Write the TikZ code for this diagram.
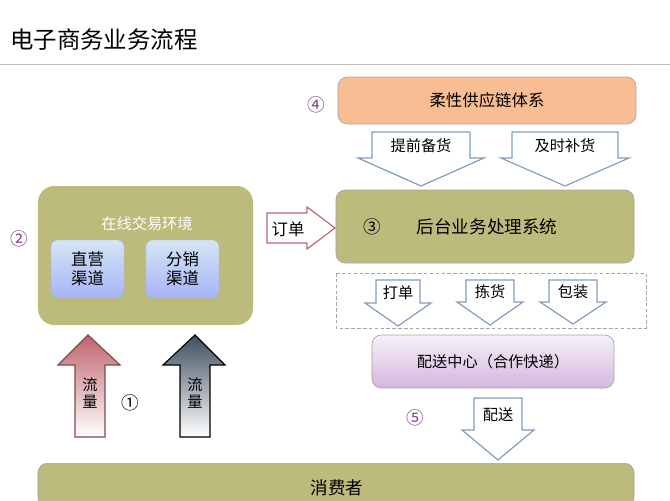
\documentclass[tikz,border=0pt]{standalone}
\usepackage{fontspec}
\setmainfont{Noto Sans CJK SC}
\usepackage{tikz}
\usetikzlibrary{positioning}

\definecolor{olive}{HTML}{BDBB7C}
\definecolor{peach}{HTML}{F9BD93}
\definecolor{lavend}{HTML}{DCCDEB}
\definecolor{skyb}{HTML}{B9D3EE}
\definecolor{arrowblue}{HTML}{7F9DBF}
\definecolor{arrowred}{HTML}{C0646E}
\definecolor{circ}{HTML}{7A3E8A}

\tikzset{
  panel/.style={rounded corners=8pt, draw=gray!70, line width=0.6pt},
  chanbox/.style={rounded corners=6pt, draw=gray!60, top color=white!40!skyb, bottom color=skyb!70!blue!70,
    minimum width=2.2cm, minimum height=1.75cm, align=center, font=\fontsize{14}{16}\selectfont},
  blockarrow/.style={draw=arrowblue, line width=1pt, fill=white, line join=miter},
  num/.style={text=circ, font=\fontsize{15}{17}\selectfont},
  lbl/.style={font=\fontsize{13}{15}\selectfont}
}

% block arrow pointing down: x centre, top, shaft half width, head half width, neck y, tip y
\newcommand{\blockdown}[7]{%
  \draw[blockarrow] (#1-#3,#2) -- (#1+#3,#2) -- (#1+#3,#5) -- (#1+#4,#5) -- (#1,#6)
    -- (#1-#4,#5) -- (#1-#3,#5) -- cycle;
  \node[lbl] at (#1,{(#2+#5)/2+1}) {#7};}

\begin{document}
\begin{tikzpicture}[x=0.03cm, y=-0.03cm]
\useasboundingbox (0,0) rectangle (670,500);

% Title
\node[anchor=west, font=\fontsize{20}{23}\selectfont] (title) at (6,40) {电子商务业务流程};
\draw[gray!50, line width=0.6pt] (0,64) -- (670,64);

% Supply chain
\node[panel, fill=peach, minimum width=8.94cm, minimum height=1.41cm, font=\fontsize{14}{16}\selectfont]
  (supply) at (487,100.5) {柔性供应链体系};
\node[num] (n4) at (316,105) {④};
\blockdown{421}{132}{49}{63}{158}{186}{提前备货}
\blockdown{565}{132}{53}{64}{158}{186}{及时补货}

% Backend
\node[panel, fill=olive, minimum width=8.94cm, minimum height=2.19cm] (backend) at (485,226.5) {};
\node[font=\fontsize{15}{17}\selectfont] (n3) at (372,227) {③};
\node[font=\fontsize{15}{17}\selectfont] (backtxt) at (487,227) {后台业务处理系统};

% Order arrow
\draw[draw=arrowred, line width=1pt, fill=white] (267,213) -- (307,213) -- (307,207) -- (335,228)
  -- (307,249) -- (307,243) -- (267,243) -- cycle;
\node[font=\fontsize{14}{16}\selectfont] (order) at (288,229) {订单};

% Warehouse steps
\draw[gray!70, densely dashed, line width=0.6pt] (336,273) rectangle (646,328);
\blockdown{398}{280}{22}{33}{303}{326}{打单}
\blockdown{490}{280}{24}{33}{302}{325}{拣货}
\blockdown{573}{280}{24}{33}{302}{324}{包装}

% Delivery centre
\node[panel, top color=white!70!lavend, bottom color=lavend!80!violet!80,
  minimum width=7.26cm, minimum height=1.59cm, lbl] (deliver) at (493,361.5) {配送中心（合作快递）};
\node[num] (n5) at (415,418) {⑤};
\blockdown{498}{398}{24}{36}{430}{460}{配送}

% Consumer
\node[panel, fill=olive, anchor=north, minimum width=17.88cm, minimum height=1.3cm] (consumer) at (336,463) {};
\node[font=\fontsize{15}{17}\selectfont] (constxt) at (337,488) {消费者};

% Online trading environment
\node[panel, draw=none, rounded corners=14pt, fill=olive, minimum width=6.45cm, minimum height=4.17cm] (online) at (145.5,255.5) {};
\node[text=white, lbl] (onltxt) at (147,224) {在线交易环境};
\node[chanbox] (direct) at (87.5,269) {直营\\渠道};
\node[chanbox] (distrib) at (182.5,269) {分销\\渠道};
\node[num] (n2) at (19,239) {②};

% Traffic arrows
\draw[draw=arrowred!70!black, line width=1pt, top color=arrowred, bottom color=white]
  (75,437) -- (75,365) -- (58,365) -- (88,335) -- (120,365) -- (105,365) -- (105,437) -- cycle;
\node[align=center, lbl] (flow1) at (90,393) {流\\量};
\draw[draw=black, line width=1pt, top color=arrowblue!50!black, bottom color=white]
  (180,437) -- (180,365) -- (163,365) -- (195,335) -- (225,365) -- (210,365) -- (210,437) -- cycle;
\node[align=center, lbl] (flow2) at (195,393) {流\\量};
\node[font=\fontsize{15}{17}\selectfont] (n1) at (130,403) {①};

\end{tikzpicture}
\end{document}
